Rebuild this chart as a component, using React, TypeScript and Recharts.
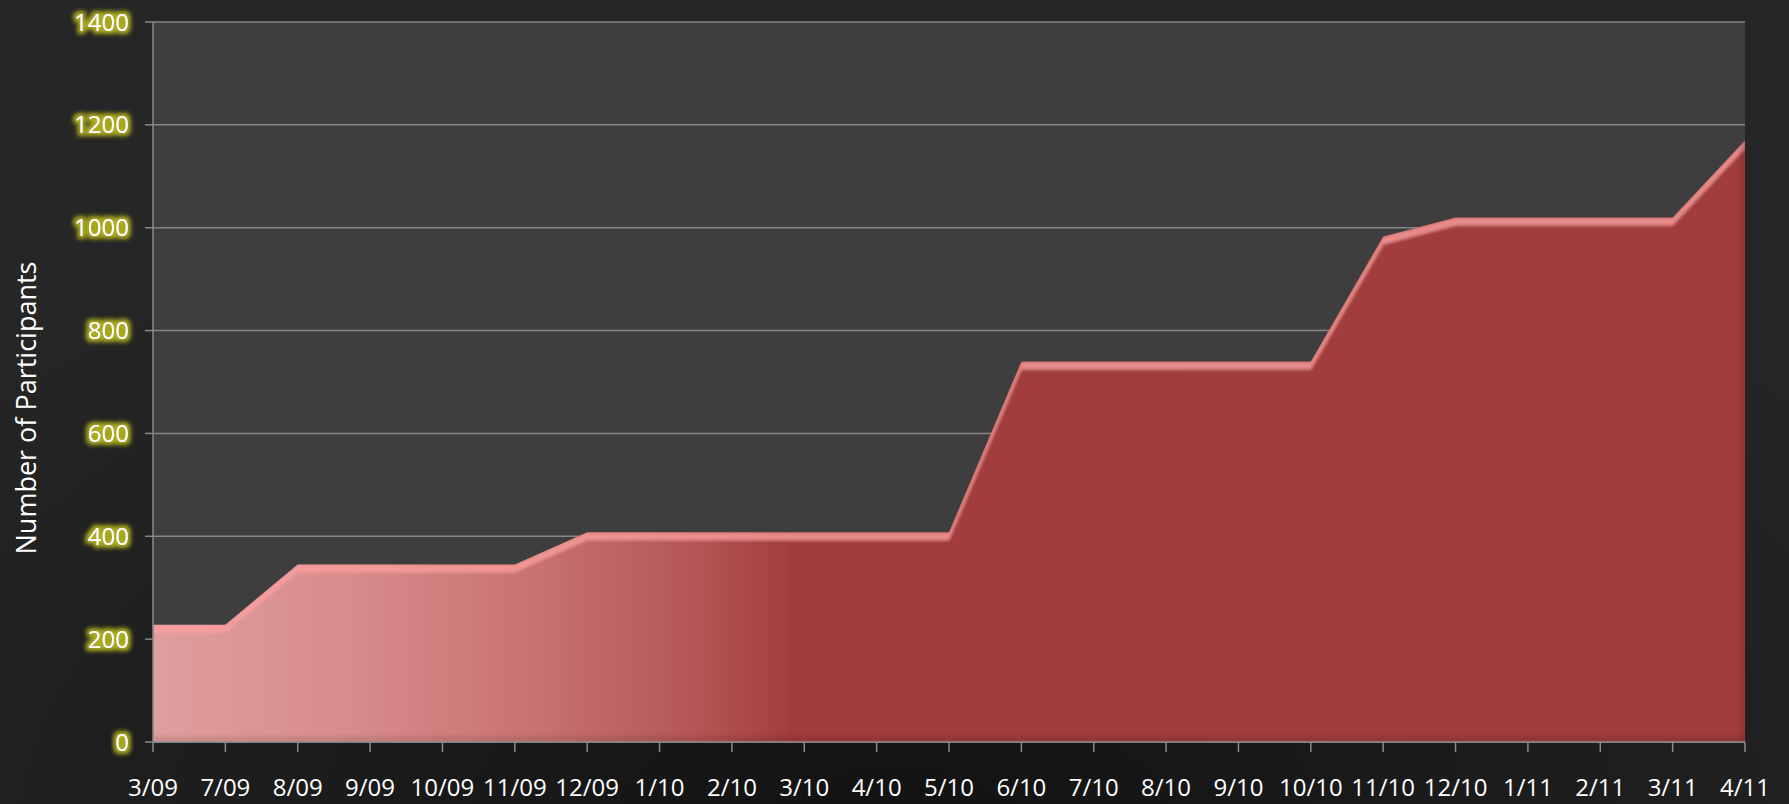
import React from 'react';
import { AreaChart, Area, XAxis, YAxis, CartesianGrid } from 'recharts';

const months = ['3/09','7/09','8/09','9/09','10/09','11/09','12/09','1/10','2/10','3/10','4/10','5/10','6/10','7/10','8/10','9/10','10/10','11/10','12/10','1/11','2/11','3/11','4/11'];
const participants = [228,228,345,345,345,345,408,408,408,408,408,408,740,740,740,740,740,983,1020,1020,1020,1020,1170];
const yTicks = [0,200,400,600,800,1000,1200,1400];

const data = months.map((m, i) => ({ month: m, value: participants[i] }));

const FONT = '"Open Sans", "DejaVu Sans", sans-serif';

const YTick = (props: any) => {
  const { x, y, payload } = props;
  return (
    <text x={x} y={y} dy="0.355em" textAnchor="end" fill="#ffffff" fontSize={24} fontFamily={FONT} filter="url(#glow)">
      {payload.value}
    </text>
  );
};

const YTitle = () => (
  <text x={25} y={408} transform="rotate(-90 25 408)" textAnchor="middle" dominantBaseline="central" fill="#ffffff" fontSize={27} fontFamily={FONT}>
    Number of Participants
  </text>
);

export default function App() {
  return (
    <div style={{ position: 'absolute', left: 0, top: 0, width: 1789, height: 804, background: 'radial-gradient(ellipse 70% 90% at 50% 105%, #121212 0%, #1c1c1c 50%, #262626 100%)' }}>
      <style>{`.recharts-area-area{filter:url(#bevel);}`}</style>
      <AreaChart width={1789} height={804} data={data} margin={{ top: 22, right: 44, left: 0, bottom: 0 }}>
        <defs>
          <linearGradient id="areaFill" x1="0" y1="0" x2="1" y2="0">
            <stop offset="0%" stopColor="#e09e9e" />
            <stop offset="12%" stopColor="#d88c8c" />
            <stop offset="24%" stopColor="#c87272" />
            <stop offset="34%" stopColor="#b45656" />
            <stop offset="40%" stopColor="#a33e3d" />
            <stop offset="100%" stopColor="#a13d3c" />
          </linearGradient>
          <filter id="glow" x="-30%" y="-60%" width="160%" height="220%">
            <feMorphology in="SourceAlpha" operator="dilate" radius="2.5" result="d" />
            <feGaussianBlur in="d" stdDeviation="2.2" result="b" />
            <feFlood floodColor="#acac1e" result="c" />
            <feComposite in="c" in2="b" operator="in" result="g" />
            <feMerge>
              <feMergeNode in="g" />
              <feMergeNode in="SourceGraphic" />
            </feMerge>
          </filter>
          <filter id="bevel" x="-2%" y="-5%" width="104%" height="110%">
            <feOffset in="SourceAlpha" dx="0" dy="8" result="offD" />
            <feComposite in="SourceAlpha" in2="offD" operator="out" result="topEdge" />
            <feGaussianBlur in="topEdge" stdDeviation="1.5" result="topBlur" />
            <feComposite in="topBlur" in2="SourceAlpha" operator="in" result="topIn" />
            <feFlood floodColor="#ffa0a0" floodOpacity="0.7" result="hc" />
            <feComposite in="hc" in2="topIn" operator="in" result="hl" />
            <feOffset in="SourceAlpha" dx="0" dy="-6" result="offU" />
            <feComposite in="SourceAlpha" in2="offU" operator="out" result="botEdge" />
            <feGaussianBlur in="botEdge" stdDeviation="1.5" result="botBlur" />
            <feComposite in="botBlur" in2="SourceAlpha" operator="in" result="botIn" />
            <feFlood floodColor="#000000" floodOpacity="0.18" result="sc" />
            <feComposite in="sc" in2="botIn" operator="in" result="sh" />
            <feOffset in="SourceAlpha" dx="-5" dy="0" result="offL" />
            <feComposite in="SourceAlpha" in2="offL" operator="out" result="rEdge" />
            <feGaussianBlur in="rEdge" stdDeviation="1.5" result="rBlur" />
            <feComposite in="rBlur" in2="SourceAlpha" operator="in" result="rIn" />
            <feFlood floodColor="#000000" floodOpacity="0.2" result="rc" />
            <feComposite in="rc" in2="rIn" operator="in" result="rsh" />
            <feMerge>
              <feMergeNode in="SourceGraphic" />
              <feMergeNode in="hl" />
              <feMergeNode in="sh" />
              <feMergeNode in="rsh" />
            </feMerge>
          </filter>
        </defs>
        <CartesianGrid vertical={false} stroke="#868686" strokeWidth={1.5} fill="#3e3e3e" fillOpacity={1} />
        <XAxis
          dataKey="month"
          interval={0}
          height={62}
          tickSize={10}
          tickMargin={27}
          axisLine={{ stroke: '#8a8a8a', strokeWidth: 1.5 }}
          tickLine={{ stroke: '#8a8a8a', strokeWidth: 1.5 }}
          tick={{ fill: '#ffffff', fontSize: 24, fontFamily: FONT }}
        />
        <YAxis
          width={153}
          domain={[0, 1400]}
          ticks={yTicks}
          interval={0}
          tickSize={8}
          tickMargin={16}
          axisLine={{ stroke: '#8a8a8a', strokeWidth: 1.5 }}
          tickLine={{ stroke: '#8a8a8a', strokeWidth: 1.5 }}
          tick={<YTick />}
          label={{ content: () => <YTitle /> }}
        />
        <Area type="linear" dataKey="value" stroke="none" fill="url(#areaFill)" fillOpacity={1} isAnimationActive={false} />
      </AreaChart>
    </div>
  );
}
